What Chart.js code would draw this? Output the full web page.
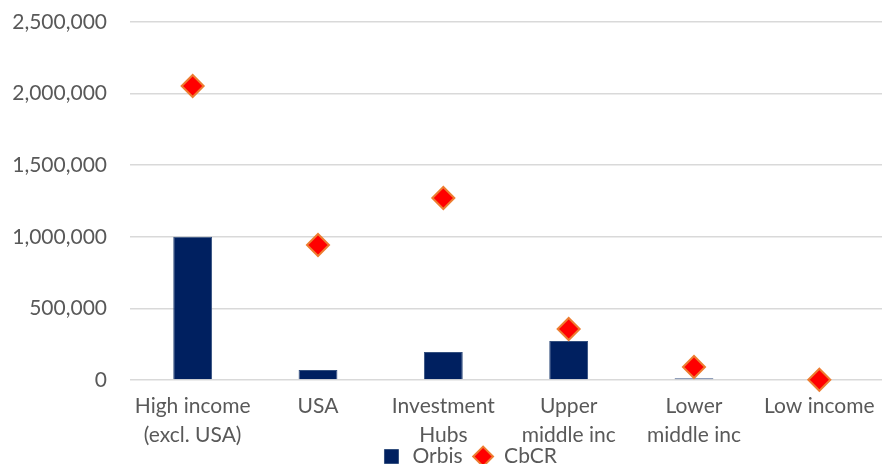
<!DOCTYPE html>
<html>
<head>
<meta charset="utf-8">
<script src="https://cdn.jsdelivr.net/npm/chart.js@4.4.1/dist/chart.umd.min.js"></script>
<style>
    body { margin: 0; background: #fff; overflow: hidden; }
    #wrap { width: 882px; height: 464px; }
</style>
</head>
<body>
<div id="wrap"><canvas id="myChart" width="882" height="464"></canvas></div>
<script>
// categories and values
const regions = [
    ['High income', '(excl. USA)'],
    'USA',
    ['Investment', 'Hubs'],
    ['Upper', 'middle inc'],
    ['Lower', 'middle inc'],
    'Low income'
]
const orbis = [1000000, 70000, 195000, 272000, 12000, 0]
const cbcr = [2053000, 943000, 1271000, 356000, 91000, 2000]
const yTicks = [0, 500000, 1000000, 1500000, 2000000, 2500000]

const textGrey = '#595959'

// legend sits low, over the second row of category labels
const legendDown = {
    id: 'legendDown',
    afterLayout(chart) {
        const lg = chart.legend
        const h = lg.height
        lg.top = chart.height - h + 13
        lg.bottom = lg.top + h
        lg.left += 28
        lg.right += 28
    }
}

const data1 = {
    labels: regions,
    datasets: [{
        type: 'bar',
        label: 'Orbis',
        data: orbis,
        backgroundColor: '#002060',
        borderColor: '#34507f',
        borderWidth: 1,
        barPercentage: 0.31,
        categoryPercentage: 1,
        pointStyle: 'rect',
        order: 2
    }, {
        type: 'line',
        label: 'CbCR',
        data: cbcr,
        showLine: false,
        clip: false,
        pointStyle: 'rectRot',
        pointRadius: 11,
        pointHoverRadius: 11,
        pointBackgroundColor: '#ff0000',
        pointBorderColor: '#ed7d31',
        pointBorderWidth: 2,
        backgroundColor: '#ff0000',
        borderColor: '#ed7d31',
        borderWidth: 2,
        order: 1
    }]
}

const config = {
    type: 'bar',
    data: data1,
    plugins: [legendDown],
    options: {
        responsive: false,
        animation: false,
        layout: { autoPadding: false, padding: { top: 22, right: 0, left: 0, bottom: -32 } },
        plugins: {
            tooltip: { enabled: false },
            legend: {
                position: 'bottom',
                labels: {
                    usePointStyle: true,
                    boxHeight: 14,
                    padding: 10,
                    color: textGrey,
                    font: { family: 'Lato', size: 21, lineHeight: 0.9 },
                    sort: (a, b) => a.datasetIndex - b.datasetIndex
                }
            }
        },
        scales: {
            x: {
                // invisible tick marks just push the labels down
                grid: { display: true, drawOnChartArea: false, color: 'rgba(0,0,0,0)', tickLength: 6 },
                border: { display: false },
                ticks: {
                    color: textGrey,
                    font: { family: 'Lato', size: 21, lineHeight: 1.38 },
                    padding: 6,
                    maxRotation: 0,
                    autoSkip: false
                },
                afterFit: (scale) => {
                    scale.height = 75
                }
            },
            y: {
                min: 0,
                max: 2500000,
                afterBuildTicks: (scale) => { scale.ticks = yTicks.map(v => ({ value: v })) },
                grid: { color: '#d9d9d9', lineWidth: 1.5, drawTicks: false },
                border: { display: false },
                ticks: {
                    color: textGrey,
                    font: { family: 'Lato', size: 21 },
                    padding: 23,
                    callback: (v) => v.toLocaleString('en-US')
                },
                afterFit: (scale) => {
                    scale.width = 130
                    scale.paddingTop = 12
                }
            }
        }
    }
}

const myChart = new Chart(document.getElementById('myChart'), config)
</script>
</body>
</html>
